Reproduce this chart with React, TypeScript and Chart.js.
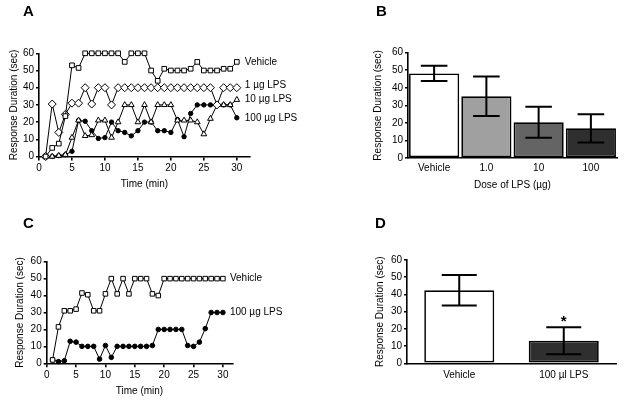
import React, { useEffect, useRef } from 'react';
import { Chart, registerables } from 'chart.js';

Chart.register(...registerables);

const FONT = '"Liberation Sans", Arial, Helvetica, sans-serif';

// ---------- Data ----------
const timeMinutes = [1, 2, 3, 4, 5, 6, 7, 8, 9, 10, 11, 12, 13, 14, 15, 16, 17, 18, 19, 20, 21, 22, 23, 24, 25, 26, 27, 28, 29, 30];

// Panel A
const aVehicle = [0, 5, 7.5, 23.5, 53, 51.5, 60, 60, 60, 60, 60, 60, 55, 60, 60, 60, 50, 44, 51, 50, 50, 50, 51, 55, 50, 50, 50, 51, 51, 55];
const a1ugLPS = [0, 30.5, 14, 24.5, 31, 31, 40, 30.5, 40, 40, 30, 40, 40, 40, 40, 40, 40, 40, 40, 40, 40, 40, 40, 40, 40, 40, 30, 40, 40, 40];
const a10ugLPS = [0, 0, 0.5, 1, 11, 21, 12, 12.5, 21, 21, 11, 20, 30, 30, 20, 30, 20, 30, 30, 30, 21, 21, 21, 20, 13, 22, 30, 30, 30, 33];
const a100ugLPS = [0, 0, 0.5, 1, 3, 21, 20.5, 15, 10.5, 11, 20, 15, 14, 12, 15, 20, 20, 15, 15, 14, 21.5, 11.5, 25, 30, 30, 30, 30, 30, 30, 22.5];

// Panel C
const cVehicle = [2, 21.5, 31, 31, 32, 41.5, 40.5, 31, 31, 41, 50, 41, 50, 41, 50, 50, 50, 41, 40, 50, 50, 50, 50, 50, 50, 50, 50, 50, 50, 50];
const c100ugLPS = [2, 1, 1.5, 13, 12.5, 10, 10, 10, 2.5, 10.5, 3.5, 10, 10, 10, 10, 10, 10, 10.5, 20, 20, 20, 20, 20, 10.5, 10, 12.5, 20.5, 30, 30, 30];

// Panel B
const bDoseLabels = ['Vehicle', '1.0', '10', '100'];
const bMeans = [48.2, 35.2, 20.4, 16.9];
const bErrors = [4.3, 11.2, 8.8, 8.1];

// Panel D
const dLabels = ['Vehicle', '100 \u00b5l LPS'];
const dMeans = [42.4, 13.1];
const dErrors = [8.9, 7.9];
const dMarks = ['', '*'];

// Ticks
const yTicks = [0, 10, 20, 30, 40, 50, 60];
const xTicks = [0, 5, 10, 15, 20, 25, 30];

// ---------- Plugins ----------
const panelLetterPlugin = {
  id: 'panelLetter',
  afterDraw(chart: any, _args: any, opts: any) {
    if (!opts || !opts.text) return;
    const ctx = chart.ctx;
    ctx.save();
    ctx.fillStyle = '#000';
    ctx.font = `bold 15px ${FONT}`;
    ctx.textAlign = 'left';
    ctx.textBaseline = 'alphabetic';
    ctx.fillText(opts.text, opts.x, opts.y);
    ctx.restore();
  },
};

const endLabelsPlugin = {
  id: 'endLabels',
  afterDatasetsDraw(chart: any, _args: any, opts: any) {
    if (!opts || !opts.display) return;
    const ctx = chart.ctx;
    ctx.save();
    ctx.fillStyle = '#000';
    ctx.font = `10px ${FONT}`;
    ctx.textAlign = 'left';
    ctx.textBaseline = 'middle';
    chart.data.datasets.forEach((ds: any, i: number) => {
      const meta = chart.getDatasetMeta(i);
      const last = meta.data[meta.data.length - 1];
      if (!last) return;
      ctx.fillText(ds.label, last.x + opts.offset, last.y + (ds.labelDy || 0));
    });
    ctx.restore();
  },
};

const errorBarsPlugin = {
  id: 'errorBars',
  afterDatasetsDraw(chart: any, _args: any, opts: any) {
    if (!opts || !opts.errors) return;
    const ctx = chart.ctx;
    const yScale = chart.scales.y;
    const meta = chart.getDatasetMeta(0);
    const values = chart.data.datasets[0].data;
    ctx.save();
    ctx.strokeStyle = '#000';
    ctx.lineWidth = 2;
    meta.data.forEach((bar: any, i: number) => {
      const v = values[i];
      const e = opts.errors[i];
      const yHi = yScale.getPixelForValue(v + e);
      const yLo = yScale.getPixelForValue(v - e);
      const x = bar.x;
      ctx.beginPath();
      ctx.moveTo(x, yHi);
      ctx.lineTo(x, yLo);
      ctx.moveTo(x - opts.capHalf, yHi);
      ctx.lineTo(x + opts.capHalf, yHi);
      ctx.moveTo(x - opts.capHalf, yLo);
      ctx.lineTo(x + opts.capHalf, yLo);
      ctx.stroke();
      if (opts.marks && opts.marks[i]) {
        ctx.fillStyle = '#000';
        ctx.font = `bold 15px ${FONT}`;
        ctx.textAlign = 'center';
        ctx.textBaseline = 'alphabetic';
        ctx.fillText(opts.marks[i], x, yHi - 1);
      }
    });
    ctx.restore();
  },
};

// ---------- Shared axis helpers ----------
const tickFont = { family: FONT, size: 10 };
const titleFont = { family: FONT, size: 10 };

function yAxis(width: number, showTitle = true) {
  return {
    type: 'linear',
    min: 0,
    max: 60,
    afterFit: (s: any) => {
      s.width = width;
    },
    afterBuildTicks: (s: any) => {
      s.ticks = yTicks.map((v) => ({ value: v }));
    },
    border: { display: true, color: '#000', width: 1.6 },
    grid: { drawOnChartArea: false, drawTicks: true, tickLength: 3, color: '#000', lineWidth: 1.6 },
    ticks: { color: '#000', font: tickFont, padding: 2, autoSkip: false },
    title: {
      display: showTitle,
      text: 'Response Duration (sec)',
      color: '#000',
      font: titleFont,
      padding: { top: 4, bottom: 4 },
    },
  };
}

function timeAxis(height: number, max: number) {
  return {
    type: 'linear',
    min: 0,
    max,
    afterFit: (s: any) => {
      s.height = height;
    },
    afterBuildTicks: (s: any) => {
      s.ticks = xTicks.map((v) => ({ value: v }));
    },
    border: { display: true, color: '#000', width: 1.6 },
    grid: { drawOnChartArea: false, drawTicks: true, tickLength: 4, color: '#000', lineWidth: 1.6 },
    ticks: { color: '#000', font: tickFont, padding: 2, maxRotation: 0, autoSkip: false },
    title: { display: true, text: 'Time (min)', color: '#000', font: titleFont, padding: { top: 4, bottom: 4 } },
  };
}

function lineDs(label: string, values: number[], style: string, radius: number, fill: string, labelDy = 0) {
  return {
    label,
    labelDy,
    data: timeMinutes.map((t, i) => ({ x: t, y: values[i] })),
    borderColor: '#000',
    borderWidth: 1,
    pointStyle: style,
    pointRadius: radius,
    pointBackgroundColor: fill,
    pointBorderColor: '#000',
    pointBorderWidth: 1,
    tension: 0,
    clip: false,
  };
}

function lineConfig(
  datasets: any[],
  pad: any,
  yWidth: number,
  xHeight: number,
  xMax: number,
  letter: any,
  labelOffset: number
): any {
  return {
    type: 'line',
    data: { datasets },
    options: {
      responsive: false,
      animation: false,
      devicePixelRatio: 1,
      events: [],
      layout: { padding: pad },
      scales: { x: timeAxis(xHeight, xMax), y: yAxis(yWidth) },
      plugins: {
        legend: { display: false },
        tooltip: { enabled: false },
        panelLetter: letter,
        endLabels: { display: true, offset: labelOffset },
      },
    },
    plugins: [endLabelsPlugin, panelLetterPlugin],
  };
}

function barConfig(
  labels: string[],
  means: number[],
  errors: number[],
  colors: string[],
  barPct: number,
  pad: any,
  yWidth: number,
  xHeight: number,
  xTitle: string | null,
  tickPad: number,
  capHalf: number,
  marks: string[] | null,
  letter: any
): any {
  return {
    type: 'bar',
    data: {
      labels,
      datasets: [
        {
          data: means,
          backgroundColor: colors,
          borderColor: '#000',
          borderWidth: 1.7,
          borderSkipped: false,
          barPercentage: barPct,
          categoryPercentage: 1,
        },
      ],
    },
    options: {
      responsive: false,
      animation: false,
      devicePixelRatio: 1,
      events: [],
      layout: { padding: pad },
      scales: {
        x: {
          type: 'category',
          afterFit: (s: any) => {
            s.height = xHeight;
          },
          border: { display: true, color: '#000', width: 1.6 },
          grid: { display: false, drawTicks: false },
          ticks: { color: '#000', font: tickFont, padding: tickPad, maxRotation: 0, autoSkip: false },
          title: {
            display: !!xTitle,
            text: xTitle || '',
            color: '#000',
            font: titleFont,
            padding: { top: 4, bottom: 4 },
          },
        },
        y: yAxis(yWidth),
      },
      plugins: {
        legend: { display: false },
        tooltip: { enabled: false },
        panelLetter: letter,
        errorBars: { errors, capHalf, marks },
      },
    },
    plugins: [errorBarsPlugin, panelLetterPlugin],
  };
}

// ---------- Panels ----------
function Panel({ make, left, top, width, height }: any) {
  const ref = useRef<HTMLCanvasElement>(null);
  useEffect(() => {
    const chart = new Chart(ref.current as HTMLCanvasElement, make());
    return () => chart.destroy();
  }, []);
  return (
    <div style={{ position: 'absolute', left, top, width, height }}>
      <canvas ref={ref} width={width} height={height} style={{ display: 'block', width, height }} />
    </div>
  );
}

const makeA = () =>
  lineConfig(
    [
      lineDs('Vehicle', aVehicle, 'rect', 3.3, '#fff'),
      lineDs('1 \u00b5g LPS', a1ugLPS, 'rectRot', 4, '#fff', -2),
      lineDs('10 \u00b5g LPS', a10ugLPS, 'triangle', 3.3, '#fff'),
      lineDs('100 \u00b5g LPS', a100ugLPS, 'circle', 2.2, '#000'),
    ],
    { left: 4, top: 53.3, right: 62, bottom: 6 },
    35,
    37.5,
    32,
    { text: 'A', x: 23, y: 16 },
    8
  );

const makeC = () =>
  lineConfig(
    [
      lineDs('Vehicle', cVehicle, 'rect', 3.2, '#fff'),
      lineDs('100 \u00b5g LPS', c100ugLPS, 'circle', 2.3, '#000'),
    ],
    { left: 10.7, top: 61.7, right: 79.7, bottom: 0.3 },
    36,
    38.4,
    31.6,
    { text: 'C', x: 23, y: 28 },
    7
  );

const makeB = () =>
  barConfig(
    bDoseLabels,
    bMeans,
    bErrors,
    ['#ffffff', '#a0a0a0', '#646464', '#2f2f2f'],
    0.96,
    { left: 56.7, top: 52.7, right: 7, bottom: 5 },
    39.3,
    37,
    'Dose of LPS (\u00b5g)',
    4,
    13.3,
    null,
    { text: 'B', x: 64, y: 16 }
  );

const makeD = () =>
  barConfig(
    dLabels,
    dMeans,
    dErrors,
    ['#ffffff', '#2f2f2f'],
    0.67,
    { left: 58.3, top: 60, right: 8, bottom: 8.7 },
    36.7,
    30,
    null,
    6,
    17.5,
    dMarks,
    { text: 'D', x: 63, y: 28 }
  );

export default function App() {
  return (
    <div style={{ position: 'absolute', left: 0, top: 0, width: 624, height: 402, background: '#fff' }}>
      <Panel make={makeA} left={0} top={0} width={312} height={200} />
      <Panel make={makeB} left={312} top={0} width={312} height={200} />
      <Panel make={makeC} left={0} top={200} width={312} height={202} />
      <Panel make={makeD} left={312} top={200} width={312} height={202} />
    </div>
  );
}
